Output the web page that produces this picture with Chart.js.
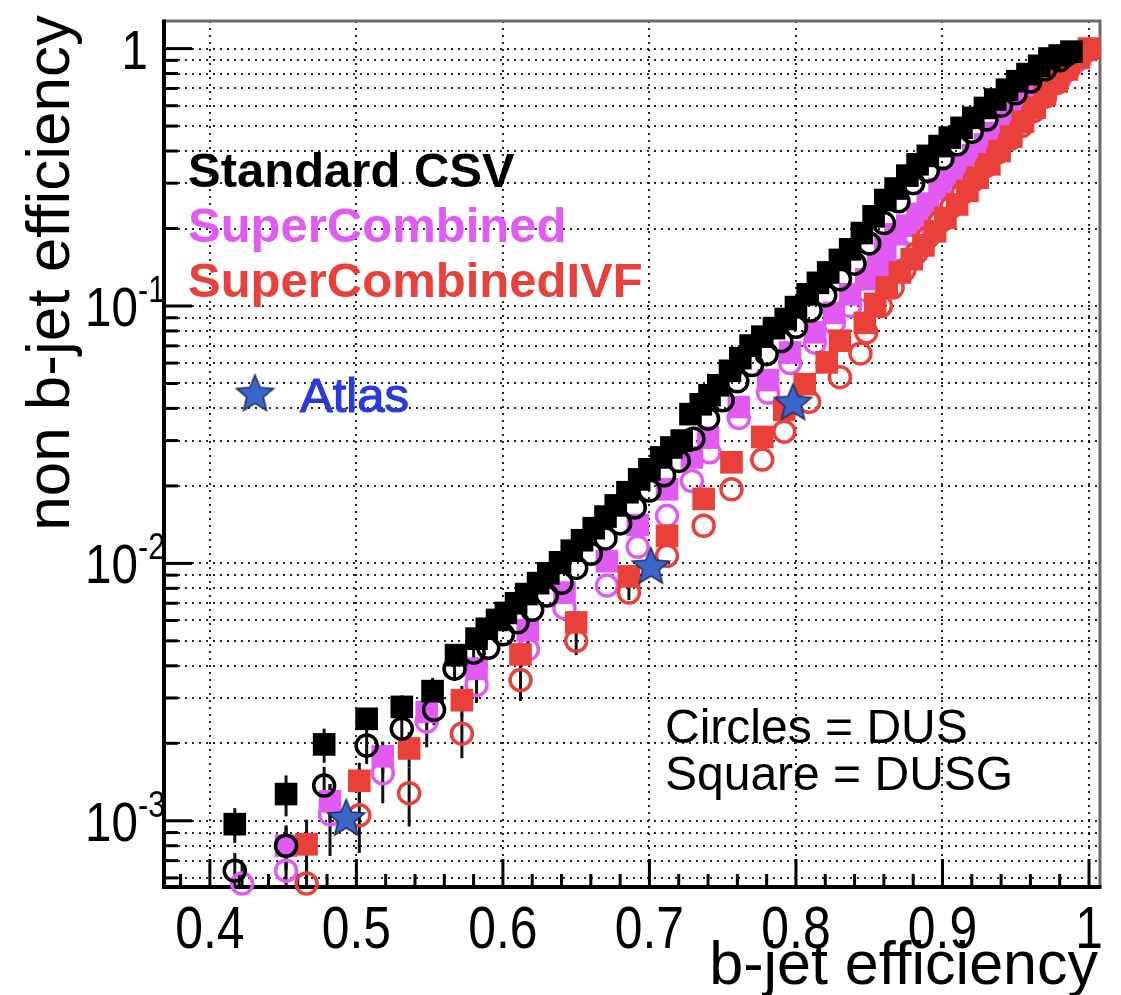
<!DOCTYPE html>
<html>
<head>
<meta charset="utf-8">
<script src="https://cdn.jsdelivr.net/npm/chart.js@4.4.0/dist/chart.umd.min.js"></script>
<style>
  html, body { margin: 0; padding: 0; background: #fff; }
  #wrap { width: 1121px; height: 995px; }
</style>
</head>
<body>
<div id="wrap"><canvas id="roc" width="1121" height="995"></canvas></div>
<script>
// Standard CSV, squares = DUSG
const csvSqX = [0.417, 0.452, 0.478, 0.507, 0.531, 0.552, 0.568, 0.582, 0.589, 0.596, 0.602, 0.609, 0.616, 0.624, 0.631, 0.639, 0.647, 0.654, 0.662, 0.670, 0.677, 0.685, 0.693, 0.700, 0.708, 0.715, 0.722, 0.728, 0.735, 0.741, 0.747, 0.755, 0.762, 0.769, 0.777, 0.785, 0.793, 0.800, 0.808, 0.815, 0.822, 0.830, 0.837, 0.845, 0.853, 0.861, 0.868, 0.876, 0.883, 0.890, 0.898, 0.905, 0.913, 0.921, 0.929, 0.936, 0.944, 0.951, 0.958, 0.966, 0.973, 0.980, 0.988];
const csvSqY = [9.7e-4, 1.27e-3, 1.98e-3, 2.49e-3, 2.77e-3, 3.19e-3, 4.4e-3, 5.1e-3, 5.57e-3, 6.03e-3, 6.42e-3, 7.0e-3, 7.6e-3, 8.38e-3, 9.15e-3, 1.01e-2, 1.12e-2, 1.23e-2, 1.37e-2, 1.52e-2, 1.68e-2, 1.89e-2, 2.12e-2, 2.32e-2, 2.58e-2, 2.82e-2, 3.0e-2, 3.8e-2, 4.15e-2, 4.5e-2, 4.92e-2, 5.6e-2, 6.27e-2, 7.02e-2, 7.6e-2, 8.2e-2, 8.9e-2, 9.9e-2, 0.111, 0.123, 0.135, 0.151, 0.166, 0.192, 0.223, 0.258, 0.286, 0.321, 0.355, 0.383, 0.418, 0.451, 0.492, 0.538, 0.588, 0.634, 0.692, 0.747, 0.796, 0.857, 0.915, 0.94, 0.973];
const csvSqErr = [1.5e-4, 2.3e-4, 3e-4, 2.5e-4, 3e-4, 4e-4, 4e-4, 4e-4];
// Standard CSV, circles = DUS
const csvCiX = [0.417, 0.452, 0.478, 0.507, 0.531, 0.553, 0.567, 0.580, 0.590, 0.600, 0.610, 0.620, 0.630, 0.640, 0.650, 0.660, 0.670, 0.680, 0.690, 0.700, 0.710, 0.720, 0.730, 0.740, 0.750, 0.760, 0.770, 0.780, 0.790, 0.800, 0.810, 0.820, 0.830, 0.840, 0.850, 0.860, 0.870, 0.880, 0.890, 0.900, 0.910, 0.920, 0.930, 0.940, 0.950, 0.960, 0.970, 0.980, 0.985];
const csvCiY = [6.4e-4, 8.0e-4, 1.37e-3, 1.96e-3, 2.28e-3, 2.7e-3, 3.9e-3, 4.5e-3, 4.7e-3, 5.3e-3, 5.9e-3, 6.6e-3, 7.5e-3, 8.4e-3, 9.6e-3, 1.09e-2, 1.25e-2, 1.43e-2, 1.65e-2, 1.92e-2, 2.2e-2, 2.5e-2, 3.05e-2, 3.65e-2, 4.3e-2, 5.1e-2, 5.9e-2, 6.5e-2, 7.3e-2, 8.3e-2, 9.6e-2, 0.110, 0.127, 0.146, 0.175, 0.210, 0.255, 0.300, 0.335, 0.375, 0.425, 0.475, 0.530, 0.600, 0.670, 0.745, 0.830, 0.900, 0.950];
const csvCiErr = [1.1e-4, 1.6e-4, 2.5e-4, 3e-4, 3e-4, 3.5e-4, 4e-4, 4e-4];

// SuperCombined, squares = DUSG
const scSqX = [0.452, 0.482, 0.518, 0.548, 0.582, 0.617, 0.642, 0.671, 0.692, 0.712, 0.729, 0.740, 0.761, 0.781, 0.796, 0.813, 0.826, 0.837, 0.848, 0.856, 0.861, 0.868, 0.876, 0.883, 0.890, 0.898, 0.905, 0.913, 0.921, 0.929, 0.936, 0.944, 0.951, 0.958, 0.966, 0.973, 0.980, 0.987, 0.994];
const scSqY = [8.0e-4, 1.19e-3, 1.78e-3, 2.65e-3, 3.9e-3, 5.5e-3, 7.7e-3, 1.02e-2, 1.41e-2, 1.94e-2, 2.58e-2, 3.08e-2, 4.05e-2, 5.15e-2, 6.6e-2, 7.9e-2, 9.4e-2, 0.111, 0.127, 0.143, 0.170, 0.19, 0.205, 0.228, 0.25, 0.285, 0.316, 0.35, 0.385, 0.424, 0.47, 0.52, 0.573, 0.63, 0.70, 0.767, 0.83, 0.89, 0.95];
const scSqErr = [1.5e-4, 2e-4, 2.5e-4, 3e-4, 4e-4, 4e-4];
// SuperCombined, circles = DUS
const scCiX = [0.422, 0.452, 0.482, 0.518, 0.548, 0.582, 0.617, 0.642, 0.671, 0.692, 0.712, 0.729, 0.741, 0.761, 0.781, 0.796, 0.813, 0.826, 0.837, 0.848, 0.860, 0.870, 0.880, 0.890, 0.900, 0.910, 0.920, 0.930, 0.940, 0.950, 0.960, 0.970, 0.980, 0.990];
const scCiY = [5.7e-4, 6.4e-4, 1.06e-3, 1.53e-3, 2.43e-3, 3.37e-3, 4.63e-3, 6.7e-3, 8.2e-3, 1.16e-2, 1.53e-2, 2.09e-2, 2.7e-2, 3.67e-2, 4.6e-2, 6.0e-2, 7.2e-2, 8.6e-2, 0.10, 0.115, 0.14, 0.165, 0.19, 0.22, 0.255, 0.29, 0.33, 0.38, 0.44, 0.50, 0.57, 0.66, 0.76, 0.88];
const scCiErr = [1.2e-4, 1.5e-4, 3.3e-4, 3.6e-4, 5e-4, 5e-4, 6e-4];

// SuperCombinedIVF, squares = DUSG
const ivfSqX = [0.466, 0.502, 0.536, 0.572, 0.612, 0.650, 0.686, 0.712, 0.737, 0.756, 0.777, 0.792, 0.806, 0.821, 0.830, 0.847, 0.854, 0.862, 0.871, 0.879, 0.887, 0.895, 0.902, 0.910, 0.917, 0.924, 0.932, 0.939, 0.947, 0.955, 0.963, 0.970, 0.978, 0.985, 0.993, 1.000];
const ivfSqY = [8.1e-4, 1.43e-3, 1.91e-3, 2.94e-3, 4.43e-3, 5.9e-3, 8.9e-3, 1.28e-2, 1.78e-2, 2.47e-2, 3.1e-2, 3.95e-2, 4.97e-2, 6.04e-2, 7.33e-2, 8.6e-2, 0.102, 0.118, 0.135, 0.152, 0.172, 0.195, 0.22, 0.248, 0.28, 0.315, 0.355, 0.40, 0.455, 0.52, 0.59, 0.665, 0.745, 0.83, 0.92, 1.0];
const ivfSqErr = [2e-4, 2.5e-4, 3e-4, 4e-4, 5e-4];
// SuperCombinedIVF, circles = DUS
const ivfCiX = [0.466, 0.502, 0.536, 0.572, 0.612, 0.650, 0.686, 0.712, 0.737, 0.756, 0.777, 0.792, 0.809, 0.830, 0.844, 0.848, 0.858, 0.866, 0.874, 0.882, 0.890, 0.898, 0.906, 0.914, 0.922, 0.930, 0.938, 0.946, 0.954, 0.962, 0.970, 0.978, 0.986, 0.993, 1.000];
const ivfCiY = [5.7e-4, 1.05e-3, 1.28e-3, 2.18e-3, 3.52e-3, 5.0e-3, 7.7e-3, 1.07e-2, 1.40e-2, 1.94e-2, 2.53e-2, 3.25e-2, 4.24e-2, 5.29e-2, 6.54e-2, 7.9e-2, 0.10, 0.118, 0.138, 0.16, 0.185, 0.212, 0.242, 0.275, 0.31, 0.35, 0.395, 0.445, 0.50, 0.57, 0.65, 0.735, 0.83, 0.92, 0.99];
const ivfCiErr = [1.2e-4, 3e-4, 3.3e-4, 4.3e-4, 6e-4, 6e-4, 5e-4];

// Atlas working points
const atlasX = [0.493, 0.701, 0.798];
const atlasY = [1.03e-3, 9.8e-3, 4.24e-2];

// axes
const xMajor = [0.4, 0.5, 0.6, 0.7, 0.8, 0.9, 1.0];
const xLabels = ["0.4", "0.5", "0.6", "0.7", "0.8", "0.9", "1"];
const yDecades = [1e-3, 1e-2, 1e-1, 1];
const yExps = ["-3", "-2", "-1", ""];
const yMantissas = [2, 3, 4, 5, 6, 7, 8, 9];
const yBelow = [6e-4, 7e-4, 8e-4, 9e-4];

const BLACK = "#000000";
const MAGENTA = "#e15af2";
const RED = "#e9413a";
const FONT = "'Liberation Sans', Arial, Helvetica, sans-serif";

function yGridValues() {
  const vals = yBelow.slice();
  yDecades.forEach((d, i) => {
    vals.push(d);
    if (i < yDecades.length - 1) yMantissas.forEach((m) => vals.push(m * d));
  });
  return vals;
}

function pts(xs, ys, errs) {
  return xs.map((x, i) => ({ x: x, y: ys[i], err: errs ? errs[i] || 0 : 0 }));
}

function makeStar(r) {
  const c = document.createElement("canvas");
  const s = Math.ceil(r * 2 + 4);
  c.width = c.height = s;
  const g = c.getContext("2d");
  g.beginPath();
  for (let k = 0; k < 10; k++) {
    const a = -Math.PI / 2 + (k * Math.PI) / 5;
    const rr = k % 2 ? r * 0.45 : r;
    g.lineTo(s / 2 + rr * Math.cos(a), s / 2 + rr * Math.sin(a) + r * 0.08);
  }
  g.closePath();
  g.fillStyle = "#3b65c8";
  g.fill();
  g.lineWidth = 1.5;
  g.strokeStyle = "#1e2b58";
  g.stroke();
  return c;
}
const star = makeStar(19.5);

function text(ctx, s, x, y, size, o) {
  o = o || {};
  ctx.save();
  ctx.font = (o.bold ? "bold " : "") + size + "px " + FONT;
  ctx.fillStyle = o.color || "#000";
  ctx.textBaseline = "alphabetic";
  ctx.textAlign = o.align || "left";
  ctx.translate(x, y);
  if (o.rot) ctx.rotate(o.rot);
  ctx.scale(o.sx || 1, 1);
  if (o.stroke) {
    ctx.lineWidth = o.stroke;
    ctx.strokeStyle = o.color || "#000";
    ctx.strokeText(s, 0, 0);
  }
  ctx.fillText(s, 0, 0);
  ctx.restore();
}

const decor = {
  id: "decor",
  beforeDatasetsDraw(chart) {
    const { ctx, chartArea: a, scales } = chart;
    const xs = scales.x, ys = scales.y;

    // error bars
    ctx.save();
    ctx.beginPath();
    ctx.rect(a.left, a.top, a.right - a.left, a.bottom - a.top);
    ctx.clip();
    ctx.strokeStyle = "#111";
    ctx.lineWidth = 3;
    chart.data.datasets.forEach((ds) => {
      ds.data.forEach((p) => {
        if (!p.err) return;
        const px = xs.getPixelForValue(p.x);
        const lo = p.y - p.err > 0 ? ys.getPixelForValue(p.y - p.err) : a.bottom;
        const hi = ys.getPixelForValue(p.y + p.err);
        ctx.beginPath();
        ctx.moveTo(px, Math.min(lo, a.bottom));
        ctx.lineTo(px, hi);
        ctx.stroke();
      });
    });
    ctx.restore();

    // tick marks inside the frame
    ctx.save();
    ctx.strokeStyle = "#000";
    ctx.lineWidth = 3;
    yGridValues().forEach((v) => {
      const py = ys.getPixelForValue(v);
      const len = yDecades.includes(v) ? 28 : 14;
      ctx.beginPath();
      ctx.moveTo(a.left, py);
      ctx.lineTo(a.left + len, py);
      ctx.stroke();
    });
    for (let k = 0; k <= 31; k++) {
      const v = 0.38 + k * 0.02;
      if (v > xs.max) break;
      const px = xs.getPixelForValue(v);
      const major = xMajor.some((m) => Math.abs(m - v) < 1e-6);
      ctx.beginPath();
      ctx.moveTo(px, a.bottom);
      ctx.lineTo(px, a.bottom - (major ? 28 : 13));
      ctx.stroke();
    }
    ctx.restore();

    // frame
    ctx.save();
    ctx.lineWidth = 3;
    ctx.strokeStyle = "#6a6a6a";
    ctx.beginPath();
    ctx.moveTo(a.left, a.top);
    ctx.lineTo(a.right, a.top);
    ctx.lineTo(a.right, a.bottom);
    ctx.stroke();
    ctx.strokeStyle = "#000";
    ctx.lineWidth = 4;
    ctx.beginPath();
    ctx.moveTo(a.left, a.top - 1.5);
    ctx.lineTo(a.left, a.bottom);
    ctx.lineTo(a.right + 1.5, a.bottom);
    ctx.stroke();
    ctx.restore();
  },
  afterDraw(chart) {
    const { ctx, scales } = chart;
    const xs = scales.x, ys = scales.y;

    // x tick labels
    xMajor.forEach((v, i) => {
      text(ctx, xLabels[i], xs.getPixelForValue(v), 948, 60, { align: "center", sx: 0.83 });
    });
    // y tick labels
    yDecades.forEach((v, i) => {
      const py = ys.getPixelForValue(v);
      if (!yExps[i]) {
        text(ctx, "1", 148, py + 20, 56, { align: "right", sx: 0.85 });
        return;
      }
      text(ctx, yExps[i], 138, py - 4, 36, { align: "left", sx: 0.85 });
      text(ctx, "10", 138, py + 20, 56, { align: "right", sx: 0.85 });
    });

    // axis titles
    text(ctx, "b-jet efficiency", 1098, 984, 61, { align: "right" });
    text(ctx, "non b-jet efficiency", 69, 15, 62, { align: "right", rot: -Math.PI / 2 });

    // legend block
    text(ctx, "Standard CSV", 188, 187, 49, { bold: true, color: BLACK });
    text(ctx, "SuperCombined", 188, 242, 49, { bold: true, color: MAGENTA });
    text(ctx, "SuperCombinedIVF", 188, 297, 49, { bold: true, color: RED });
    ctx.drawImage(star, 255 - star.width / 2, 393 - star.height / 2);
    text(ctx, "Atlas", 300, 412, 49, { color: "#2a3ad8", stroke: 1.2 });

    text(ctx, "Circles = DUS", 665, 743, 48);
    text(ctx, "Square = DUSG", 665, 790, 48);
  },
};

function circles(label, xs, ys, errs, color) {
  return {
    label: label,
    data: pts(xs, ys, errs),
    pointStyle: "circle",
    pointRadius: 10.5,
    borderWidth: 3.5,
    borderColor: color,
    backgroundColor: "rgba(0,0,0,0)",
    clip: false,
  };
}
function squares(label, xs, ys, errs, color) {
  return {
    label: label,
    data: pts(xs, ys, errs),
    pointStyle: "rect",
    pointRadius: 16,
    borderWidth: 0,
    backgroundColor: color,
    borderColor: color,
    clip: false,
  };
}

new Chart(document.getElementById("roc"), {
  type: "scatter",
  data: {
    datasets: [
      {
        label: "Atlas",
        data: pts(atlasX, atlasY),
        pointStyle: star,
        pointRadius: 20,
        clip: false,
      },
      circles("Standard CSV DUS", csvCiX, csvCiY, csvCiErr, BLACK),
      squares("Standard CSV DUSG", csvSqX, csvSqY, csvSqErr, BLACK),
      circles("SuperCombinedIVF DUS", ivfCiX, ivfCiY, ivfCiErr, RED),
      squares("SuperCombinedIVF DUSG", ivfSqX, ivfSqY, ivfSqErr, RED),
      circles("SuperCombined DUS", scCiX, scCiY, scCiErr, MAGENTA),
      squares("SuperCombined DUSG", scSqX, scSqY, scSqErr, MAGENTA),
    ],
  },
  options: {
    responsive: false,
    animation: false,
    devicePixelRatio: 1,
    layout: { padding: { top: 12, right: 18, left: 0, bottom: 0 } },
    plugins: { legend: { display: false }, tooltip: { enabled: false } },
    scales: {
      x: {
        type: "linear",
        min: 0.3687,
        max: 1.0075,
        ticks: { display: false },
        grid: { color: "rgba(0,0,0,0.85)", lineWidth: 2, drawTicks: false },
        border: { display: false, dash: [2, 5] },
        afterBuildTicks: (s) => {
          s.ticks = xMajor.map((v) => ({ value: v }));
        },
        afterFit: (s) => {
          s.height = 108;
        },
      },
      y: {
        type: "logarithmic",
        min: 5.53e-4,
        max: 1.28,
        ticks: { display: false },
        grid: { color: "rgba(0,0,0,0.85)", lineWidth: 2, drawTicks: false },
        border: { display: false, dash: [2, 5] },
        afterBuildTicks: (s) => {
          s.ticks = yGridValues().map((v) => ({ value: v }));
        },
        afterFit: (s) => {
          s.width = 164;
        },
      },
    },
  },
  plugins: [decor],
});
</script>
</body>
</html>
